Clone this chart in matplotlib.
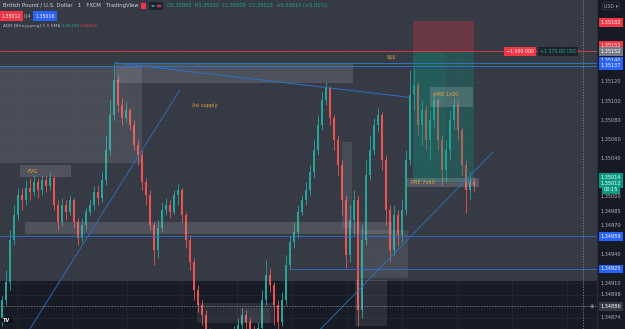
"""
GBPUSD 1 min chart, TradingView dark style, redrawn with matplotlib
"""
import matplotlib
matplotlib.use("Agg")
import matplotlib.pyplot as plt
from matplotlib.patches import Rectangle, Circle
import numpy as np

# candle data (open = previous close)
first_open = 1.34874
closes = [1.34893, 1.34911, 1.34955, 1.34981, 1.35002, 1.34997, 1.35009, 1.35005, 1.35016, 1.35007,
          1.35018, 1.35011, 1.35020, 1.34992, 1.34974, 1.34992, 1.34984, 1.34997, 1.34974, 1.34957,
          1.34971, 1.34984, 1.34992, 1.35005, 1.34999, 1.35018, 1.35049, 1.35086, 1.35122, 1.35096,
          1.35082, 1.35091, 1.35075, 1.35054, 1.35044, 1.35016, 1.35002, 1.34971, 1.34945, 1.34968,
          1.34986, 1.34992, 1.34984, 1.35002, 1.35007, 1.34981, 1.34955, 1.34932, 1.34903, 1.34887,
          1.34877, 1.34859, 1.34851, 1.34846, 1.34853, 1.34849, 1.34855, 1.34851, 1.34859, 1.34866,
          1.34877, 1.34870, 1.34861, 1.34855, 1.34863, 1.34893, 1.34919, 1.34908, 1.34887, 1.34870,
          1.34893, 1.34929, 1.34953, 1.34963, 1.34984, 1.34997, 1.35007, 1.35026, 1.35049, 1.35075,
          1.35101, 1.35114, 1.35082, 1.35059, 1.35033, 1.34997, 1.34940, 1.34976, 1.34997, 1.34882,
          1.34955, 1.35023, 1.35049, 1.35075, 1.35086, 1.35039, 1.34986, 1.34945, 1.34981, 1.34960,
          1.34986, 1.35039, 1.35106, 1.35117, 1.35075, 1.35091, 1.35059, 1.35080, 1.35101, 1.35059,
          1.35028, 1.35049, 1.35080, 1.35096, 1.35070, 1.35033, 1.35007, 1.35016, 1.35012]
highs = [1.34897, 1.34924, 1.34966, 1.34992, 1.35009, 1.35009, 1.35018, 1.35020, 1.35023, 1.35020,
         1.35023, 1.35022, 1.35026, 1.35022, 1.34997, 1.34999, 1.34997, 1.35002, 1.34999, 1.34978,
         1.34978, 1.34989, 1.34997, 1.35011, 1.35012, 1.35026, 1.35065, 1.35101, 1.35140, 1.35127,
         1.35103, 1.35099, 1.35093, 1.35080, 1.35059, 1.35049, 1.35020, 1.35007, 1.34974, 1.34976,
         1.34995, 1.34999, 1.34997, 1.35007, 1.35014, 1.35009, 1.34984, 1.34960, 1.34936, 1.34908,
         1.34893, 1.34882, 1.34863, 1.34856, 1.34861, 1.34858, 1.34861, 1.34859, 1.34865, 1.34874,
         1.34884, 1.34882, 1.34874, 1.34865, 1.34870, 1.34903, 1.34934, 1.34926, 1.34911, 1.34893,
         1.34901, 1.34940, 1.34959, 1.34974, 1.34992, 1.35002, 1.35016, 1.35033, 1.35059, 1.35086,
         1.35110, 1.35120, 1.35116, 1.35086, 1.35065, 1.35039, 1.35002, 1.34992, 1.35007, 1.35002,
         1.34971, 1.35039, 1.35065, 1.35082, 1.35093, 1.35089, 1.35044, 1.34992, 1.34992, 1.34986,
         1.34997, 1.35049, 1.35132, 1.35135, 1.35120, 1.35101, 1.35096, 1.35091, 1.35106, 1.35103,
         1.35065, 1.35059, 1.35091, 1.35103, 1.35099, 1.35072, 1.35039, 1.35026, 1.35020]
lows = [1.34865, 1.34887, 1.34903, 1.34950, 1.34976, 1.34986, 1.34992, 1.34997, 1.35001, 1.34999,
        1.35002, 1.35005, 1.35007, 1.34986, 1.34966, 1.34970, 1.34976, 1.34981, 1.34968, 1.34950,
        1.34953, 1.34966, 1.34981, 1.34986, 1.34992, 1.34995, 1.35012, 1.35044, 1.35080, 1.35089,
        1.35075, 1.35078, 1.35070, 1.35049, 1.35033, 1.35007, 1.34992, 1.34966, 1.34929, 1.34936,
        1.34963, 1.34981, 1.34978, 1.34982, 1.34992, 1.34974, 1.34947, 1.34924, 1.34893, 1.34880,
        1.34866, 1.34851, 1.34840, 1.34835, 1.34840, 1.34838, 1.34843, 1.34840, 1.34847, 1.34853,
        1.34861, 1.34859, 1.34851, 1.34846, 1.34851, 1.34859, 1.34887, 1.34901, 1.34866, 1.34859,
        1.34865, 1.34887, 1.34924, 1.34947, 1.34957, 1.34981, 1.34992, 1.35002, 1.35020, 1.35044,
        1.35070, 1.35096, 1.35075, 1.35049, 1.35023, 1.34981, 1.34926, 1.34932, 1.34960, 1.34865,
        1.34874, 1.34950, 1.35018, 1.35044, 1.35068, 1.35028, 1.34971, 1.34932, 1.34940, 1.34950,
        1.34953, 1.34981, 1.35033, 1.35091, 1.35065, 1.35054, 1.35049, 1.35039, 1.35072, 1.35049,
        1.35012, 1.35016, 1.35039, 1.35070, 1.35059, 1.35023, 1.34983, 1.34997, 1.35005]

# price scale labels
tick_prices = [1.35120, 1.35100, 1.35080, 1.35060, 1.35040, 1.35000, 1.34985,
               1.34970, 1.34940, 1.34910, 1.34898, 1.34874]

# coloured labels on the price scale: price, text, colour, nudge (px) for stacking
tag_prices = [1.35182, 1.35152, 1.35152, 1.35140, 1.35137, 1.35014, 1.35012, 1.35012,
              1.34959, 1.34925, 1.34886]
tag_texts = ["1.35182", "1.35152", "1.35152", "1.35140", "1.35137", "1.35014", "1.35012", "00:15",
             "1.34959", "1.34925", "1.34886"]
tag_colors = ["#f23645", "#f23645", "#787b86", "#2962ff", "#2962ff", "#089981", "#089981", "#089981",
              "#2962ff", "#2962ff", "#363a45"]
tag_nudge = [0, 6, 0, 2, 0, 6.5, 1.5, -4.5, 0, 0, 0]

UP = "#26a69a"
DOWN = "#ef5350"
BLUE = "#2f72c4"
ORANGE = "#e8a33a"
W, H = 625, 329

fig = plt.figure(figsize=(W / 100, H / 100), dpi=100, facecolor="#161a25")
ax = fig.add_axes([0, 0, 597 / W, 1])
ax.set_facecolor("#171b26")
ax.set_xlim(-0.5, 148.75)
ax.set_ylim(1.348623, 1.352055)
for s in ax.spines.values():
    s.set_visible(False)
ax.set_xticks([])
ax.set_yticks([])

# lighter session area over most of the chart
ax.add_patch(Rectangle((-0.5, 1.34912), 149.25, 0.0031, fc="#363a45", ec="none", zorder=0))

# grid
for p in tick_prices:
    ax.axhline(p, color="#4a4e59", lw=0.4, alpha=0.35, zorder=1)
for gx in np.arange(3.75, 148, 13.75):
    ax.axvline(gx, color="#4a4e59", lw=0.4, alpha=0.35, zorder=1)

# candles
opens = np.array([first_open] + closes[:-1])
c = np.array(closes)
idx = np.arange(len(c))
cols = np.where(c >= opens, UP, DOWN)
ax.vlines(idx, lows, highs, colors=cols, lw=0.6, zorder=3)
body = c - opens
body = np.where(np.abs(body) < 0.000008, np.sign(body + 1e-12) * 0.000008, body)
ax.bar(idx, body, bottom=opens, width=0.6, color=cols, zorder=3)


def zone(x0, x1, p0, p1, fc="#b2b5be", alpha=0.18, z=4):
    ax.add_patch(Rectangle((x0, p0), x1 - x0, p1 - p0, fc=fc, ec="none", alpha=alpha, zorder=z))


# grey zones
zone(-0.5, 35, 1.35035, 1.35137, alpha=0.16)
zone(28.5, 87.75, 1.35119, 1.35139, alpha=0.2)
zone(4.5, 17.25, 1.35021, 1.35033, alpha=0.22)
zone(5.75, 97.5, 1.34961, 1.34974, alpha=0.2)
zone(89.5, 101.5, 1.34916, 1.34966, alpha=0.14)
zone(88.25, 96.25, 1.34865, 1.34913, alpha=0.14)
zone(48.75, 68, 1.34869, 1.34889, alpha=0.13)
zone(59.5, 67, 1.34869, 1.34884, alpha=0.1)
zone(85, 87.5, 1.34968, 1.35057, alpha=0.14)

# short position tool
zone(102.75, 118, 1.35152, 1.35184, fc="#f23645", alpha=0.28)
zone(102.75, 118, 1.35016, 1.35152, fc="#089981", alpha=0.28)
zone(102.75, 110.75, 1.35016, 1.35152, fc="#089981", alpha=0.12)
zone(107, 117.75, 1.35094, 1.35115, alpha=0.25, z=5)
zone(101.25, 119.25, 1.35010, 1.35020, alpha=0.25, z=5)

# horizontal levels
ax.axhline(1.35152, color="#f23645", lw=0.6, zorder=5)
ax.axhline(1.35137, color=BLUE, lw=0.7, zorder=5)
ax.plot([28.25, 148.75], [1.35140, 1.35140], color=BLUE, lw=0.7, zorder=5)
ax.axhline(1.34959, color=BLUE, lw=0.6, zorder=5)
ax.plot([72.5, 148.75], [1.34925, 1.34925], color=BLUE, lw=0.6, zorder=5)

# trendlines
ax.plot([28.25, 101.75], [1.35140, 1.35104], color=BLUE, lw=0.7, zorder=5)
ax.plot([4.5, 44.5], [1.34846, 1.35112], color=BLUE, lw=0.6, zorder=5)
ax.plot([77.5, 122.75], [1.34853, 1.35047], color=BLUE, lw=0.6, zorder=5)

# crosshair
ax.axvline(145.25, color="#9598a1", lw=0.5, ls=(0, (2, 2)), zorder=6)
ax.axhline(1.34886, color="#9598a1", lw=0.5, ls=(0, (2, 2)), zorder=6)

# drawing texts
txt = dict(color=ORANGE, fontsize=3.6, va="center", zorder=7)
ax.text(6.25, 1.35027, "FVG", **txt)
ax.text(47.5, 1.35095, "Asi supply", **txt)
ax.text(96.25, 1.35146, "$$$", **txt)
ax.text(107.75, 1.35107, "AMR 1x20", **txt)
ax.text(102.25, 1.35015, "PRE 7x60", **txt)

# position tool label
ax.text(129.5, 1.35152, "\u22121 000 000", color="white", fontsize=3.4, ha="center", va="center",
        zorder=8, bbox=dict(boxstyle="square,pad=0.4", fc="#f23645", ec="none"))
ax.text(139, 1.35152, "+1 370.00 USD", color="#22ab94", fontsize=3.4, ha="center", va="center",
        zorder=8, bbox=dict(boxstyle="square,pad=0.4", fc="#1e222d", ec="none"))
ax.text(144.2, 1.35152, "\u2715", color="#f23645", fontsize=3.4, ha="center", va="center", zorder=9)

# price scale
fig.add_artist(plt.Line2D([597 / W, 597 / W], [0, 1], color="#2a2e39", lw=0.8))
lab = dict(xycoords=("axes fraction", "data"), textcoords="offset pixels", ha="center", va="center",
           fontsize=3.6, annotation_clip=False)
for p in tick_prices:
    ax.annotate(f"{p:.5f}", xy=(1.0, p), xytext=(14, 0), color="#b2b5be", **lab)
for p, t, col, dy in zip(tag_prices, tag_texts, tag_colors, tag_nudge):
    ax.annotate(t, xy=(1.0, p), xytext=(14, dy), color="white", zorder=10,
                bbox=dict(boxstyle="square,pad=0.35", fc=col, ec="none"), **lab)


def ftext(px, py, s, **kw):
    return fig.text(px / W, 1 - py / H, s, va="center", **kw)


ftext(611, 6, "USD \u25be", color="#b2b5be", fontsize=3.4, ha="center",
      bbox=dict(boxstyle="round,pad=0.3", fc="#161a25", ec="#434651", lw=0.4))
ftext(592, 306, "\u2295", color="#b2b5be", fontsize=3.6, ha="center")

# header rows
ftext(3, 6, "British Pound / U.S. Dollar   1   FXCM   TradingView", color="#d1d4dc", fontsize=3.9)
fig.add_artist(Rectangle((141 / W, 1 - 9 / H), 5 / W, 6 / H, transform=fig.transFigure,
                         fc="#f23645", ec="none"))
fig.add_artist(Rectangle((149 / W, 1 - 10 / H), 14 / W, 8 / H, transform=fig.transFigure,
                         fc="#1e222d", ec="none"))
fig.add_artist(Circle((153 / W, 1 - 6 / H), 1.8 / W, transform=fig.transFigure, fc="#22ab94", ec="none"))
fig.add_artist(Circle((159 / W, 1 - 6 / H), 2.6 / W, transform=fig.transFigure, fc="#b03a5b", ec="none"))
ftext(167, 6, "O1.35003  H1.35022  L1.35000  C1.35012  +0.00010 (+0.01%)", color="#22ab94",
      fontsize=3.6)
ftext(11, 16, "1.35012", color="white", fontsize=3.4, ha="center",
      bbox=dict(boxstyle="square,pad=0.45", fc="#f23645", ec="none"))
ftext(28, 16, "0.4", color="#b2b5be", fontsize=3.4, ha="center")
ftext(45, 16, "1.35016", color="white", fontsize=3.4, ha="center",
      bbox=dict(boxstyle="square,pad=0.45", fc="#2962ff", ec="none"))
ftext(3, 26, "ADR [Bfroyyperg] 5 0 EMA", color="#b2b5be", fontsize=3.2)
ftext(62, 26, "1.35150", color="#22ab94", fontsize=3.2)
ftext(80, 26, "1.35014", color="#f23645", fontsize=3.2)

# TV logo
fig.add_artist(Circle((7 / W, 1 - 320 / H), 6 / W, transform=fig.transFigure, fc="#0c0e15", ec="none"))
ftext(7, 320, "TV", color="white", fontsize=3.6, ha="center", fontweight="bold")

fig.savefig("out.png", dpi=100, facecolor=fig.get_facecolor())
plt.close(fig)
